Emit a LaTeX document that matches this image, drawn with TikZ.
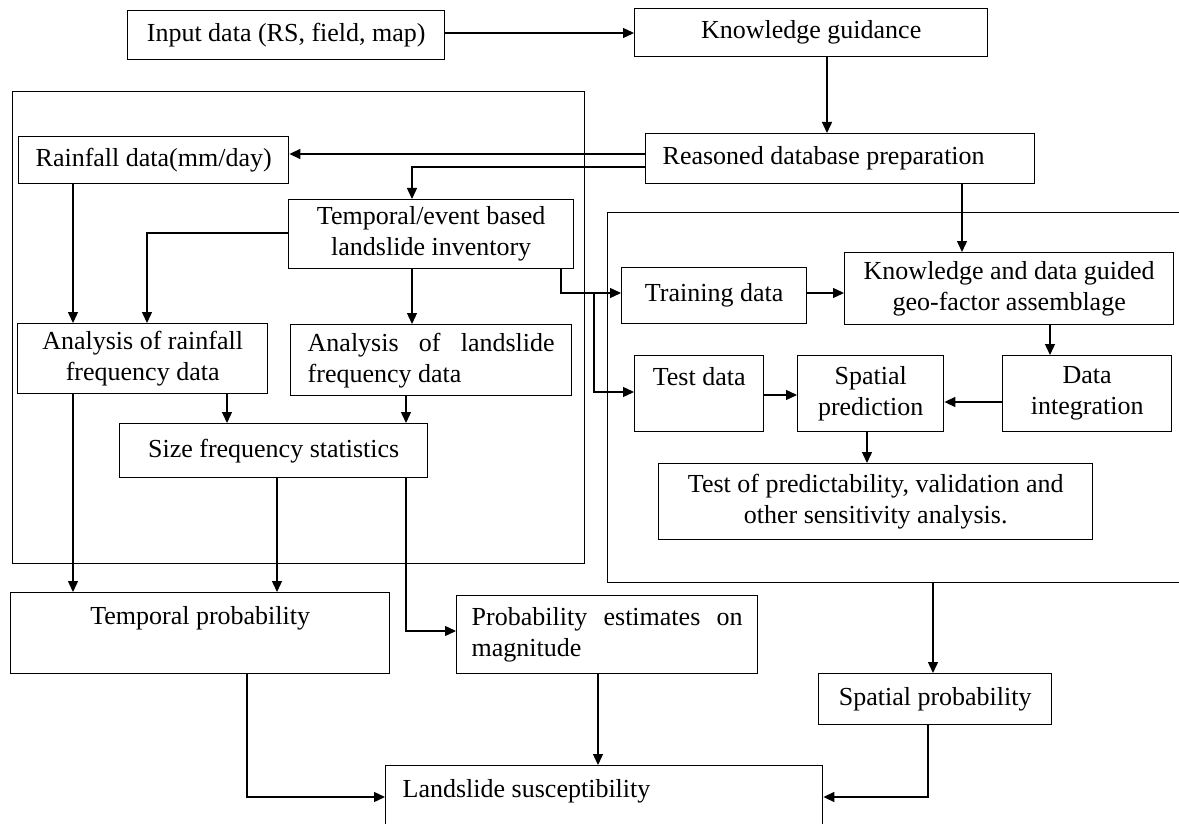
\documentclass[tikz,border=0pt]{standalone}
\usepackage{fontspec}
\setmainfont{Liberation Serif}
\usetikzlibrary{arrows.meta}
\begin{document}
\begin{tikzpicture}[x=0.5pt,y=-0.5pt,
  box/.style={draw, line width=0.7pt, fill=white, inner sep=0pt, anchor=north west,
    align=center, font=\fontsize{13}{15.5}\selectfont},
  group/.style={draw, line width=0.7pt, inner sep=0pt, anchor=north west},
  arr/.style={line width=0.7pt, -{Triangle[length=5.5pt,width=5pt]}},
  conn/.style={line width=0.7pt}]
\useasboundingbox (0,0) rectangle (1179,824);
\clip (0,0) rectangle (1179,824);
\fill[white] (0,0) rectangle (1179,824);

% group frames
\node[group, minimum width=286pt, minimum height=236pt] (leftgroup) at (12,91) {};
\node[group, minimum width=295pt, minimum height=185pt] (rightgroup) at (607,212) {};

% boxes
\node[box, minimum width=158.5pt, minimum height=24.5pt] (input) at (127,10) {Input data (RS, field, map)};
\node[box, minimum width=176.5pt, minimum height=24pt] (KG) at (634,8) {Knowledge guidance};
\node[box, minimum width=135pt, minimum height=23.5pt] (rain) at (18,136) {Rainfall data(mm/day)};
\node[box, minimum width=194.5pt, minimum height=25pt, text width=177.5pt, align=flush left] (R) at (645,133) {Reasoned database preparation};
\node[box, minimum width=142.5pt, minimum height=34.5pt] (temp) at (288,199) {Temporal/event based\\landslide inventory};
\node[box, minimum width=92.5pt, minimum height=28pt] (train) at (621,267) {Training data};
\node[box, minimum width=164.5pt, minimum height=36pt] (KDG) at (844,252) {Knowledge and data guided\\geo-factor assemblage};
\node[box, minimum width=64.5pt, inner ysep=5pt, text height=10pt, text depth=18pt] (test) at (634,355) {Test data};
\node[box, minimum width=73pt, minimum height=38pt] (SP) at (797,355) {Spatial\\prediction};
\node[box, minimum width=84.5pt, minimum height=38pt] (DI) at (1002,355) {Data\\integration};
\node[box, minimum width=217pt, minimum height=38pt] (TOP) at (658,463) {Test of predictability, validation and\\other sensitivity analysis.};
\node[box, minimum width=125pt, minimum height=35pt] (AR) at (17,323) {Analysis of rainfall\\frequency data};
\node[box, minimum width=140.5pt, minimum height=35.5pt, text width=123.5pt, align=justify] (AL) at (290,324) {Analysis of landslide frequency data};
\node[box, minimum width=154pt, minimum height=27pt] (SFS) at (119,423) {Size frequency statistics};
\node[box, minimum width=189.5pt, inner ysep=6pt, text height=10pt, text depth=18.5pt] (TP) at (10,592) {Temporal probability};
\node[box, minimum width=150.5pt, minimum height=39pt, text width=135.5pt, align=justify] (PE) at (456,595) {Probability estimates on magnitude};
\node[box, minimum width=116.5pt, minimum height=25.5pt] (SPP) at (818,673) {Spatial probability};
\node[box, minimum width=218.5pt, text width=201.5pt, align=flush left, inner ysep=6pt, text height=10pt, text depth=40pt] (LS) at (385,765) {Landslide susceptibility};

% helper coordinates
\coordinate (hJ) at (0,33);
\coordinate (vA) at (827,0);
\coordinate (hA) at (0,154);
\coordinate (hB) at (0,167);
\coordinate (vB) at (412,0);
\coordinate (vC) at (73,0);
\coordinate (hC) at (0,233);
\coordinate (vD) at (147,0);
\coordinate (vE) at (561,0);
\coordinate (hD) at (0,293);
\coordinate (vF) at (594,0);
\coordinate (hE) at (0,392);
\coordinate (vG) at (962,0);
\coordinate (vH) at (1050,0);
\coordinate (hF) at (0,395);
\coordinate (hG) at (0,402);
\coordinate (vI) at (867,0);
\coordinate (vJ) at (227,0);
\coordinate (vK) at (406,0);
\coordinate (vL) at (277,0);
\coordinate (hH) at (0,631);
\coordinate (vM) at (247,0);
\coordinate (hI) at (0,797);
\coordinate (vN) at (598,0);
\coordinate (vO) at (933,0);
\coordinate (vP) at (928,0);
\coordinate (junc) at (vF |- hD);

% connectors
\draw[arr] (input.east |- hJ) -- (KG.west |- hJ);
\draw[arr] (KG.south -| vA) -- (R.north -| vA);
\draw[arr] (R.west |- hA) -- (rain.east |- hA);
\draw[arr] (R.west |- hB) -| (temp.north -| vB);
\draw[arr] (rain.south -| vC) -- (AR.north -| vC);
\draw[arr] (temp.west |- hC) -| (AR.north -| vD);
\draw[arr] (temp.south -| vB) -- (AL.north -| vB);
\draw[arr] (temp.south -| vE) |- (train.west |- hD);
\draw[arr] (junc) |- (test.west |- hE);
\draw[arr] (train.east |- hD) -- (KDG.west |- hD);
\draw[arr] (R.south -| vG) -- (KDG.north -| vG);
\draw[arr] (KDG.south -| vH) -- (DI.north -| vH);
\draw[arr] (test.east |- hF) -- (SP.west |- hF);
\draw[arr] (DI.west |- hG) -- (SP.east |- hG);
\draw[arr] (SP.south -| vI) -- (TOP.north -| vI);
\draw[arr] (AR.south -| vJ) -- (SFS.north -| vJ);
\draw[arr] (AL.south -| vK) -- (SFS.north -| vK);
\draw[arr] (AR.south -| vC) -- (TP.north -| vC);
\draw[arr] (SFS.south -| vL) -- (TP.north -| vL);
\draw[arr] (SFS.south -| vK) |- (PE.west |- hH);
\draw[arr] (TP.south -| vM) |- (LS.west |- hI);
\draw[arr] (PE.south -| vN) -- (LS.north -| vN);
\draw[arr] (rightgroup.south -| vO) -- (SPP.north -| vO);
\draw[arr] (SPP.south -| vP) |- (LS.east |- hI);
\end{tikzpicture}
\end{document}
